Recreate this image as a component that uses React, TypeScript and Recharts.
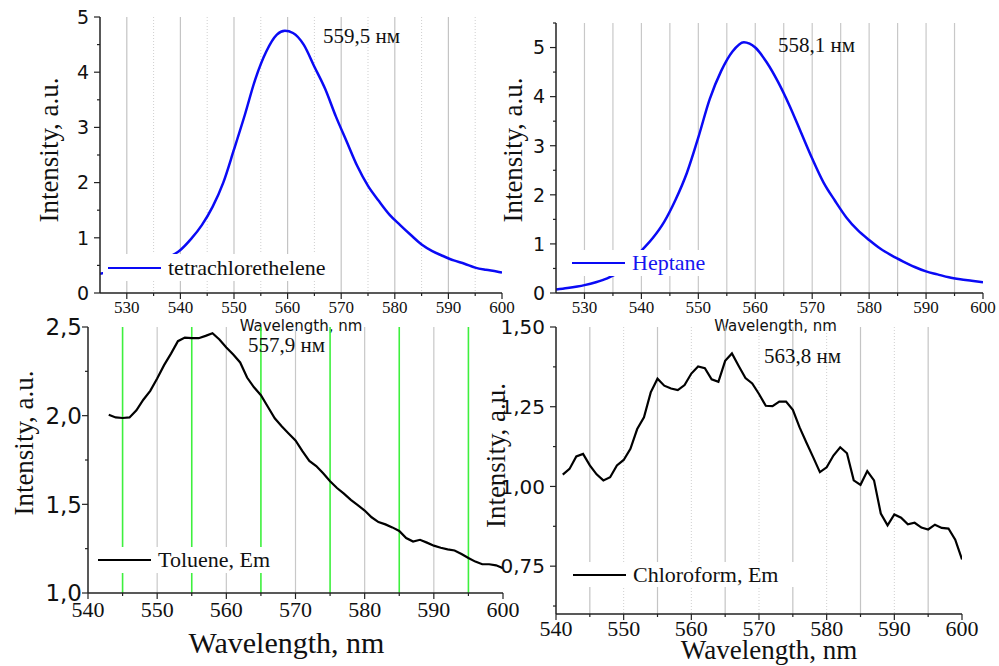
import React from 'react';
import { LineChart, Line, XAxis, YAxis, CartesianGrid, Legend, Label } from 'recharts';

const SERIF = '"Liberation Serif", "Times New Roman", serif';
const SANS = '"DejaVu Sans", Arial, sans-serif';

// tetrachlorethelene emission
const tceNm = [525, 528, 531, 534, 537, 539, 540, 542, 544, 546, 548, 550, 552, 554, 556, 558, 559.5, 561, 563, 565, 567, 569, 571, 573, 575, 577, 579, 581, 583, 585, 587, 589, 591, 593, 595, 597, 599, 600];
const tceInt = [0.35, 0.41, 0.47, 0.54, 0.62, 0.71, 0.78, 0.98, 1.23, 1.56, 2.0, 2.6, 3.22, 3.88, 4.37, 4.68, 4.75, 4.71, 4.5, 4.1, 3.7, 3.2, 2.75, 2.3, 1.94, 1.67, 1.42, 1.23, 1.05, 0.88, 0.76, 0.67, 0.59, 0.53, 0.46, 0.42, 0.39, 0.37];

// heptane emission
const heptaneNm = [525, 527, 530, 532, 534, 536, 538, 540, 542, 544, 546, 548, 550, 552, 554, 556, 558, 559, 560, 562, 564, 566, 568, 570, 572, 574, 576, 578, 580, 582, 584, 586, 588, 590, 592, 594, 596, 598, 600];
const heptaneInt = [0.07, 0.1, 0.16, 0.22, 0.3, 0.42, 0.6, 0.86, 1.12, 1.45, 1.9, 2.45, 3.17, 3.95, 4.52, 4.92, 5.11, 5.08, 5.0, 4.7, 4.3, 3.82, 3.28, 2.74, 2.25, 1.88, 1.54, 1.28, 1.08, 0.9, 0.76, 0.64, 0.53, 0.44, 0.38, 0.32, 0.28, 0.25, 0.22];

// toluene emission
const tolueneNm = [543, 544, 545, 546, 547, 548, 549, 550, 551, 552, 553, 554, 555, 556, 557, 558, 559, 560, 561, 562, 563, 564, 565, 566, 567, 568, 569, 570, 571, 572, 573, 574, 575, 576, 577, 578, 579, 580, 581, 582, 583, 584, 585, 586, 587, 588, 589, 590, 591, 592, 593, 594, 595, 596, 597, 598, 599, 600];
const tolueneInt = [2.005, 1.99, 1.987, 1.99, 2.03, 2.09, 2.14, 2.21, 2.285, 2.35, 2.42, 2.44, 2.437, 2.437, 2.45, 2.465, 2.43, 2.385, 2.345, 2.3, 2.215, 2.16, 2.115, 2.05, 1.985, 1.94, 1.9, 1.86, 1.8, 1.745, 1.716, 1.675, 1.63, 1.592, 1.56, 1.525, 1.496, 1.465, 1.427, 1.4, 1.387, 1.37, 1.35, 1.31, 1.29, 1.3, 1.284, 1.267, 1.255, 1.246, 1.24, 1.22, 1.197, 1.177, 1.162, 1.162, 1.156, 1.14];

// chloroform emission
const chloroNm = [541, 542, 543, 544, 545, 546, 547, 548, 549, 550, 551, 552, 553, 554, 555, 556, 557, 558, 559, 560, 561, 562, 563, 564, 565, 566, 567, 568, 569, 570, 571, 572, 573, 574, 575, 576, 577, 578, 579, 580, 581, 582, 583, 584, 585, 586, 587, 588, 589, 590, 591, 592, 593, 594, 595, 596, 597, 598, 599, 600];
const chloroInt = [1.037, 1.055, 1.094, 1.102, 1.066, 1.038, 1.019, 1.029, 1.066, 1.083, 1.118, 1.18, 1.217, 1.295, 1.338, 1.316, 1.307, 1.302, 1.318, 1.354, 1.376, 1.371, 1.336, 1.328, 1.394, 1.417, 1.378, 1.34, 1.323, 1.29, 1.253, 1.252, 1.266, 1.266, 1.24, 1.185, 1.138, 1.092, 1.045, 1.06, 1.097, 1.123, 1.104, 1.019, 1.005, 1.048, 1.019, 0.915, 0.878, 0.912, 0.902, 0.881, 0.886, 0.871, 0.865, 0.88, 0.87, 0.868, 0.833, 0.771];

// axis ticks and labels
const topWaveTicks = [530, 535, 540, 545, 550, 555, 560, 565, 570, 575, 580, 585, 590, 595, 600];
const topWaveLabels = [530, 540, 550, 560, 570, 580, 590, 600];
const bottomWaveTicks = [540, 545, 550, 555, 560, 565, 570, 575, 580, 585, 590, 595, 600];
const bottomWaveLabels = [540, 550, 560, 570, 580, 590, 600];
const tceIntTicks = [0, 0.5, 1, 1.5, 2, 2.5, 3, 3.5, 4, 4.5, 5];
const tceIntLabels = [0, 1, 2, 3, 4, 5];
const heptaneIntTicks = [0, 0.5, 1, 1.5, 2, 2.5, 3, 3.5, 4, 4.5, 5, 5.5];
const heptaneIntLabels = [0, 1, 2, 3, 4, 5];
const tolueneIntTicks = [1, 1.25, 1.5, 1.75, 2, 2.25, 2.5];
const tolueneIntLabels = [1, 1.5, 2, 2.5];
const chloroIntTicks = [0.625, 0.75, 0.875, 1, 1.125, 1.25, 1.375, 1.5];
const chloroIntLabels = [0.75, 1, 1.25, 1.5];

// vertical grid lines
const tceSolidGrid = [530, 540, 550, 560, 570, 580, 590];
const tceDottedGrid = [535, 545, 555, 565, 575, 585, 595];
const heptaneGrid = [530, 535, 540, 545, 550, 555, 560, 565, 570, 575, 580, 585, 590, 595];
const tolueneGrayGrid = [550, 560, 570, 580, 590];
const tolueneGreenGrid = [545, 555, 565, 575, 585, 595];
const chloroSolidGrid = [545, 555, 565, 575, 585, 595];
const chloroDottedGrid = [550, 560, 570, 580, 590];

const peakLabels = ['559,5 нм', '558,1 нм', '557,9 нм', '563,8 нм'];

const toRows = (xs: number[], ys: number[]) => xs.map((x, i) => ({ x, y: ys[i] }));
const hasValue = (list: number[], v: number) => list.some((m) => Math.abs(m - v) < 1e-6);
const plain = (v: number) => String(v);
const comma = (digits: number) => (v: number) => v.toFixed(digits).replace('.', ',');

const WaveTick = (props: any) => {
  const { x, y, payload, labels, size, labelDy } = props;
  const major = hasValue(labels, payload.value);
  return (
    <g>
      <line x1={x} x2={x} y1={y} y2={y + (major ? 6 : 3)} stroke="#222" strokeWidth={1.2} />
      {major && (
        <text x={x} y={y + labelDy} textAnchor="middle" fontFamily={SERIF} fontSize={size} fill="#111">
          {payload.value}
        </text>
      )}
    </g>
  );
};

const IntTick = (props: any) => {
  const { x, y, payload, labels, size, gap, fmt } = props;
  const major = hasValue(labels, payload.value);
  return (
    <g>
      <line x1={x} x2={x - (major ? 6 : 3)} y1={y} y2={y} stroke="#222" strokeWidth={1.2} />
      {major && (
        <text x={x - gap} y={y} dy="0.36em" textAnchor="end" fontFamily={SANS} fontSize={size} fill="#111">
          {fmt(payload.value)}
        </text>
      )}
    </g>
  );
};

const XTitle = (props: any) => {
  const { viewBox, text, ox, oy, size, family } = props;
  const vb = viewBox ?? { x: 0, y: 0, width: 0, height: 0 };
  return (
    <text x={vb.x + vb.width / 2 + ox} y={vb.y + oy} textAnchor="middle" fontFamily={family} fontSize={size} fill="#111">
      {text}
    </text>
  );
};

const YTitle = (props: any) => {
  const { viewBox, ox, oy } = props;
  const vb = viewBox ?? { x: 0, y: 0, width: 0, height: 0 };
  const cx = vb.x + ox;
  const cy = vb.y + vb.height / 2 + oy;
  return (
    <text transform={`translate(${cx},${cy}) rotate(-90)`} dy="0.36em" textAnchor="middle" fontFamily={SERIF} fontSize={27} fill="#111">
      Intensity, a.u.
    </text>
  );
};

const LegendBox = (props: any) => {
  const { payload, pad, textColor } = props;
  const entry = payload && payload[0];
  if (!entry) return null;
  return (
    <div style={{ display: 'flex', alignItems: 'center', height: '100%', paddingLeft: pad, fontFamily: SERIF, fontSize: 22, lineHeight: 1, color: textColor, whiteSpace: 'nowrap' }}>
      <span style={{ display: 'inline-block', width: 53, borderTop: `2.5px solid ${entry.color}`, marginRight: 7 }} />
      {entry.value}
    </div>
  );
};

interface PanelProps {
  left: number;
  top: number;
  width: number;
  height: number;
  margin: { top: number; right: number; bottom: number; left: number };
  yWidth: number;
  xHeight: number;
  rows: { x: number; y: number }[];
  name: string;
  color: string;
  lineWidth: number;
  curve: 'monotone' | 'linear';
  xDomain: [number, number];
  xTicks: number[];
  xLabels: number[];
  xTickSize: number;
  xTickDy: number;
  xTitle: { ox: number; oy: number; size: number; family: string };
  yDomain: [number, number];
  yTicks: number[];
  yLabels: number[];
  yTickSize: number;
  yTickGap: number;
  yFmt: (v: number) => string;
  yTitle: { ox: number; oy: number };
  grids: { values: number[]; stroke: string; width: number; dash?: string }[];
  legend: { left: number; top: number; width: number; height: number; pad: number; textColor: string };
  peak: { text: string; left: number; top: number };
}

const Panel: React.FC<PanelProps> = (p) => (
  <div style={{ position: 'absolute', left: p.left, top: p.top, width: p.width, height: p.height }}>
    <LineChart width={p.width} height={p.height} data={p.rows} margin={p.margin}>
      {p.grids.map((g, i) => (
        <CartesianGrid
          key={i}
          horizontal={false}
          vertical
          verticalValues={g.values}
          stroke={g.stroke}
          strokeWidth={g.width}
          strokeDasharray={g.dash}
        />
      ))}
      <XAxis
        type="number"
        dataKey="x"
        domain={p.xDomain}
        ticks={p.xTicks}
        interval={0}
        allowDataOverflow
        height={p.xHeight}
        tickSize={0}
        tickMargin={0}
        tickLine={false}
        axisLine={{ stroke: '#222', strokeWidth: 1.5 }}
        tick={<WaveTick labels={p.xLabels} size={p.xTickSize} labelDy={p.xTickDy} />}
      >
        <Label content={<XTitle text="Wavelength, nm" {...p.xTitle} />} />
      </XAxis>
      <YAxis
        type="number"
        domain={p.yDomain}
        ticks={p.yTicks}
        interval={0}
        allowDataOverflow
        width={p.yWidth}
        tickSize={0}
        tickMargin={0}
        tickLine={false}
        axisLine={{ stroke: '#222', strokeWidth: 1.5 }}
        tick={<IntTick labels={p.yLabels} size={p.yTickSize} gap={p.yTickGap} fmt={p.yFmt} />}
      >
        <Label content={<YTitle {...p.yTitle} />} />
      </YAxis>
      <Legend
        layout="vertical"
        align="center"
        verticalAlign="middle"
        wrapperStyle={{ left: p.legend.left, top: p.legend.top, width: p.legend.width, height: p.legend.height, background: '#fff' }}
        content={<LegendBox pad={p.legend.pad} textColor={p.legend.textColor} />}
      />
      <Line
        type={p.curve}
        dataKey="y"
        name={p.name}
        stroke={p.color}
        strokeWidth={p.lineWidth}
        dot={false}
        activeDot={false}
        isAnimationActive={false}
      />
    </LineChart>
    <div style={{ position: 'absolute', left: p.peak.left, top: p.peak.top, fontFamily: SERIF, fontSize: 21, color: '#111', whiteSpace: 'nowrap', pointerEvents: 'none' }}>
      {p.peak.text}
    </div>
  </div>
);

const App: React.FC = () => (
  <div style={{ position: 'absolute', left: 0, top: 0, width: 999, height: 666, background: '#fff', overflow: 'hidden' }}>
    <Panel
      left={0} top={0} width={530} height={345}
      margin={{ top: 17, right: 28, bottom: 12, left: 0 }}
      yWidth={100} xHeight={40}
      rows={toRows(tceNm, tceInt)} name="tetrachlorethelene" color="#0a0af5" lineWidth={2.5} curve="monotone"
      xDomain={[525, 600]} xTicks={topWaveTicks} xLabels={topWaveLabels} xTickSize={17} xTickDy={19.5}
      xTitle={{ ox: 0, oy: 38, size: 15, family: SANS }}
      yDomain={[0, 5]} yTicks={tceIntTicks} yLabels={tceIntLabels} yTickSize={19} yTickGap={11} yFmt={plain}
      yTitle={{ ox: 48, oy: -5 }}
      grids={[
        { values: tceSolidGrid, stroke: '#c4c4c4', width: 1.2 },
        { values: tceDottedGrid, stroke: '#cfcfcf', width: 1, dash: '1 2' },
      ]}
      legend={{ left: 103, top: 254, width: 235, height: 27, pad: 5, textColor: '#111' }}
      peak={{ text: peakLabels[0], left: 323, top: 24 }}
    />
    <Panel
      left={490} top={0} width={509} height={345}
      margin={{ top: 23, right: 16, bottom: 12, left: 0 }}
      yWidth={66} xHeight={40}
      rows={toRows(heptaneNm, heptaneInt)} name="Heptane" color="#0a0af5" lineWidth={2.5} curve="monotone"
      xDomain={[525, 600]} xTicks={topWaveTicks} xLabels={topWaveLabels} xTickSize={17} xTickDy={19.5}
      xTitle={{ ox: 6, oy: 38, size: 15, family: SANS }}
      yDomain={[0, 5.5]} yTicks={heptaneIntTicks} yLabels={heptaneIntLabels} yTickSize={19} yTickGap={11} yFmt={plain}
      yTitle={{ ox: 22, oy: -8 }}
      grids={[{ values: heptaneGrid, stroke: '#c8c8c8', width: 1.2 }]}
      legend={{ left: 70, top: 250, width: 156, height: 26, pad: 12, textColor: '#1515f0' }}
      peak={{ text: peakLabels[1], left: 288, top: 33 }}
    />
    <Panel
      left={0} top={300} width={520} height={366}
      margin={{ top: 27, right: 17, bottom: 3, left: 0 }}
      yWidth={88} xHeight={70}
      rows={toRows(tolueneNm, tolueneInt)} name="Toluene, Em" color="#000" lineWidth={2.2} curve="linear"
      xDomain={[540, 600]} xTicks={bottomWaveTicks} xLabels={bottomWaveLabels} xTickSize={22} xTickDy={24}
      xTitle={{ ox: -9, oy: 60, size: 30, family: SERIF }}
      yDomain={[1, 2.5]} yTicks={tolueneIntTicks} yLabels={tolueneIntLabels} yTickSize={23} yTickGap={6} yFmt={comma(1)}
      yTitle={{ ox: 23, oy: -17 }}
      grids={[
        { values: tolueneGrayGrid, stroke: '#c8c8c8', width: 1.2 },
        { values: tolueneGreenGrid, stroke: '#3ef03e', width: 1.6 },
      ]}
      legend={{ left: 92, top: 247, width: 190, height: 26, pad: 6, textColor: '#111' }}
      peak={{ text: peakLabels[2], left: 248, top: 33 }}
    />
    <Panel
      left={480} top={300} width={519} height={366}
      margin={{ top: 27, right: 37, bottom: 0, left: 0 }}
      yWidth={76} xHeight={52}
      rows={toRows(chloroNm, chloroInt)} name="Chloroform, Em" color="#000" lineWidth={2.2} curve="linear"
      xDomain={[540, 600]} xTicks={bottomWaveTicks} xLabels={bottomWaveLabels} xTickSize={22} xTickDy={22}
      xTitle={{ ox: 10, oy: 45, size: 27, family: SERIF }}
      yDomain={[0.6, 1.5]} yTicks={chloroIntTicks} yLabels={chloroIntLabels} yTickSize={20} yTickGap={11} yFmt={comma(2)}
      yTitle={{ ox: 15, oy: -15 }}
      grids={[
        { values: chloroSolidGrid, stroke: '#c4c4c4', width: 1.2 },
        { values: chloroDottedGrid, stroke: '#cfcfcf', width: 1, dash: '1 2' },
      ]}
      legend={{ left: 80, top: 262, width: 235, height: 25, pad: 13, textColor: '#111' }}
      peak={{ text: peakLabels[3], left: 284, top: 44 }}
    />
  </div>
);

export default App;
